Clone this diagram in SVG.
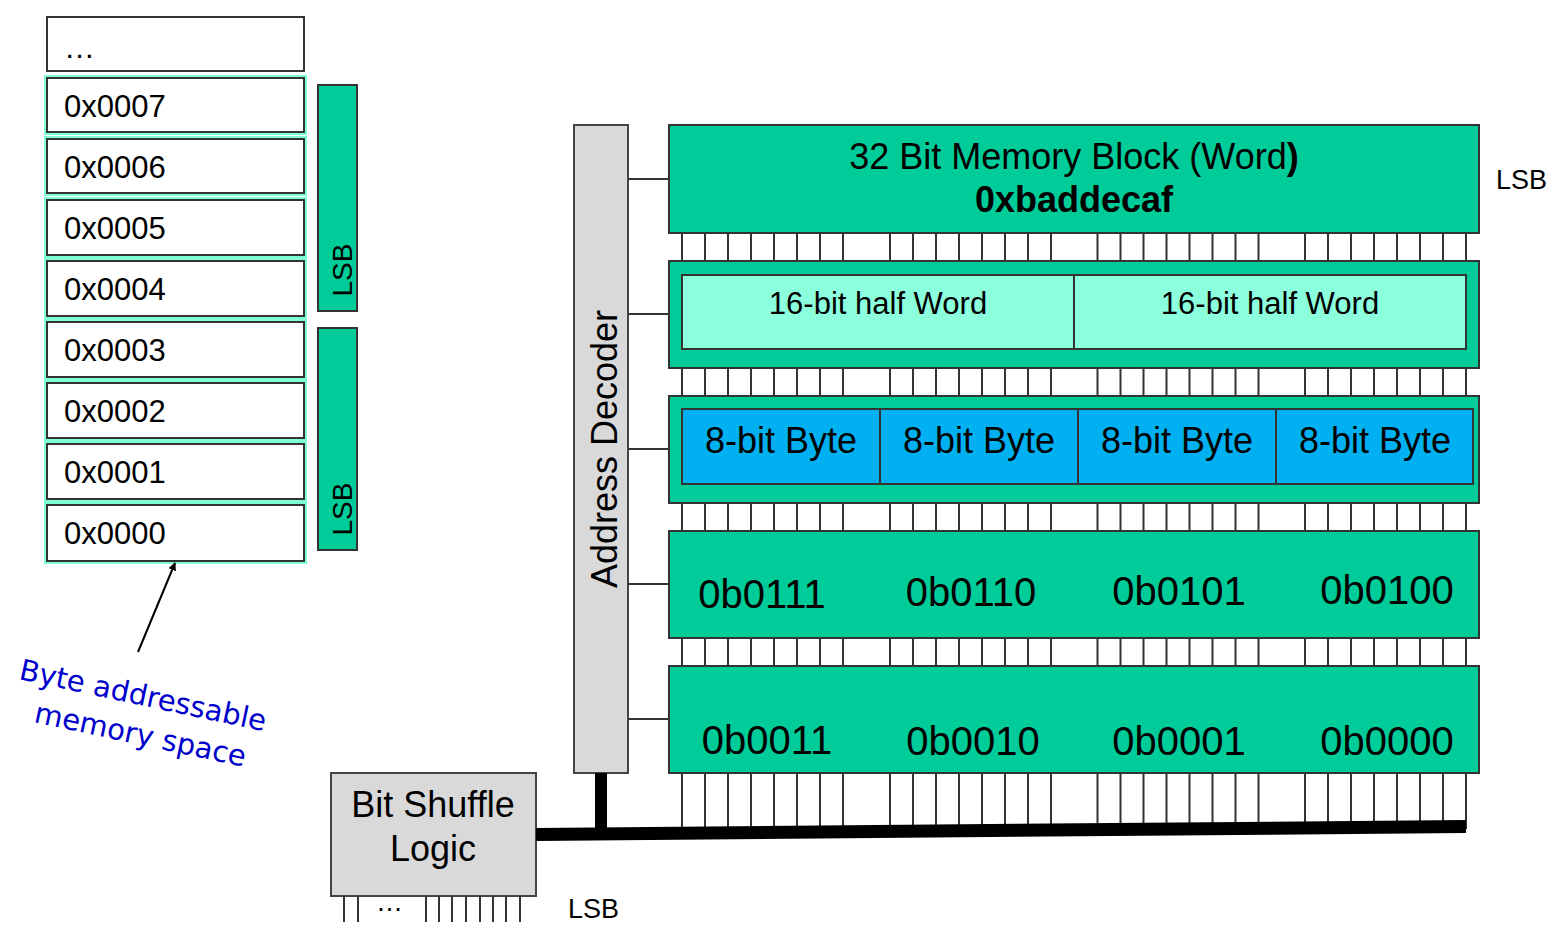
<svg xmlns="http://www.w3.org/2000/svg" width="1558" height="950" viewBox="0 0 1558 950">
<style>
text{font-family:"Liberation Sans",Arial,sans-serif;fill:#000}
.cell{fill:#fff;stroke:#333;stroke-width:2}
.glow{fill:none;stroke:#7fffd4;stroke-width:6}
.addr{font-size:31px}
.grn{fill:#00cc99;stroke:#333;stroke-width:2}
.half{fill:#8cffdc;stroke:#333;stroke-width:2}
.byte{fill:#00b0f0;stroke:#333;stroke-width:2}
.gray{fill:#d9d9d9;stroke:#444;stroke-width:2}
.wire{stroke:#333;stroke-width:2;fill:none}
.big{font-size:40px;text-anchor:middle}
.mid{font-size:36px;text-anchor:middle}
.hand{font-family:"Comic Sans MS","DejaVu Sans",sans-serif;font-size:29px;fill:#0000cc}
</style>
<defs>
<marker id="ah" viewBox="0 0 10 10" refX="9" refY="5" markerWidth="8" markerHeight="8" orient="auto" markerUnits="userSpaceOnUse"><path d="M0,0 L10,5 L0,10 z" fill="#000"/></marker>
<g id="bits"><g id="b8"><line x1="682" y1="0" x2="682" y2="28"/><line x1="705" y1="0" x2="705" y2="28"/><line x1="728" y1="0" x2="728" y2="28"/><line x1="751" y1="0" x2="751" y2="28"/><line x1="774" y1="0" x2="774" y2="28"/><line x1="797" y1="0" x2="797" y2="28"/><line x1="820" y1="0" x2="820" y2="28"/><line x1="843" y1="0" x2="843" y2="28"/></g><use href="#b8" x="208"/><use href="#b8" x="415.5"/><use href="#b8" x="623"/></g>
<g id="bitsL"><g id="b8L"><line x1="682" y1="0" x2="682" y2="56"/><line x1="705" y1="0" x2="705" y2="56"/><line x1="728" y1="0" x2="728" y2="56"/><line x1="751" y1="0" x2="751" y2="56"/><line x1="774" y1="0" x2="774" y2="56"/><line x1="797" y1="0" x2="797" y2="56"/><line x1="820" y1="0" x2="820" y2="56"/><line x1="843" y1="0" x2="843" y2="56"/></g><use href="#b8L" x="208"/><use href="#b8L" x="415.5"/><use href="#b8L" x="623"/></g>
</defs>
<rect width="1558" height="950" fill="#fff"/>

<!-- memory stack -->
<g id="mem-top"><rect class="cell" x="47" y="17" width="257" height="54"/><text class="addr" x="64" y="58">…</text></g>
<g id="mem7"><rect class="glow" x="47" y="78" width="257" height="54"/><rect class="cell" x="47" y="78" width="257" height="54"/><text class="addr" x="64" y="117">0x0007</text></g>
<g id="mem6"><rect class="glow" x="47" y="139" width="257" height="54"/><rect class="cell" x="47" y="139" width="257" height="54"/><text class="addr" x="64" y="178">0x0006</text></g>
<g id="mem5"><rect class="glow" x="47" y="200" width="257" height="55"/><rect class="cell" x="47" y="200" width="257" height="55"/><text class="addr" x="64" y="239">0x0005</text></g>
<g id="mem4"><rect class="glow" x="47" y="261" width="257" height="55"/><rect class="cell" x="47" y="261" width="257" height="55"/><text class="addr" x="64" y="300">0x0004</text></g>
<g id="mem3"><rect class="glow" x="47" y="322" width="257" height="55"/><rect class="cell" x="47" y="322" width="257" height="55"/><text class="addr" x="64" y="361">0x0003</text></g>
<g id="mem2"><rect class="glow" x="47" y="383" width="257" height="55"/><rect class="cell" x="47" y="383" width="257" height="55"/><text class="addr" x="64" y="422">0x0002</text></g>
<g id="mem1"><rect class="glow" x="47" y="444" width="257" height="55"/><rect class="cell" x="47" y="444" width="257" height="55"/><text class="addr" x="64" y="483">0x0001</text></g>
<g id="mem0"><rect class="glow" x="47" y="505" width="257" height="56"/><rect class="cell" x="47" y="505" width="257" height="56"/><text class="addr" x="64" y="544">0x0000</text></g>

<g id="lsb-bar1"><rect class="grn" x="318" y="85" width="39" height="226"/><text x="352" y="270" font-size="28" text-anchor="middle" transform="rotate(-90 352 270)">LSB</text></g>
<g id="lsb-bar2"><rect class="grn" x="318" y="328" width="39" height="222"/><text x="352" y="509" font-size="28" text-anchor="middle" transform="rotate(-90 352 509)">LSB</text></g>

<g id="note">
<text class="hand" transform="translate(18,679) rotate(12)">Byte addressable</text>
<text class="hand" transform="translate(33,722) rotate(12)">memory space</text>
</g>

<!-- address decoder -->
<g id="decoder"><rect class="gray" x="574" y="125" width="54" height="648"/><text x="617" y="449" font-size="36" text-anchor="middle" transform="rotate(-90 617 449)">Address Decoder</text></g>

<!-- blocks -->
<g id="word"><rect class="grn" x="669" y="125" width="810" height="108"/>
<text x="1074" y="169" font-size="36" text-anchor="middle">32 Bit Memory Block (Word<tspan font-weight="bold">)</tspan></text>
<text x="1074" y="212" font-size="36" font-weight="bold" text-anchor="middle">0xbaddecaf</text></g>
<g id="halfwords"><rect class="grn" x="669" y="261" width="810" height="107"/>
<rect class="half" x="682" y="275" width="392" height="74"/><rect class="half" x="1074" y="275" width="392" height="74"/>
<text x="878" y="314" font-size="31" text-anchor="middle">16-bit half Word</text>
<text x="1270" y="314" font-size="31" text-anchor="middle">16-bit half Word</text></g>
<g id="bytes"><rect class="grn" x="669" y="396" width="810" height="107"/>
<rect class="byte" x="682" y="409" width="198" height="75"/><rect class="byte" x="880" y="409" width="198" height="75"/><rect class="byte" x="1078" y="409" width="198" height="75"/><rect class="byte" x="1276" y="409" width="197" height="75"/>
<text class="mid" x="781" y="453">8-bit Byte</text><text class="mid" x="979" y="453">8-bit Byte</text><text class="mid" x="1177" y="453">8-bit Byte</text><text class="mid" x="1375" y="453">8-bit Byte</text></g>
<g id="bits-high"><rect class="grn" x="669" y="531" width="810" height="107"/>
<text class="big" x="762" y="608">0b0111</text><text class="big" x="971" y="606">0b0110</text><text class="big" x="1179" y="605">0b0101</text><text class="big" x="1387" y="604">0b0100</text></g>
<g id="bits-low"><rect class="grn" x="669" y="666" width="810" height="107"/>
<text class="big" x="767" y="754">0b0011</text><text class="big" x="973" y="755">0b0010</text><text class="big" x="1179" y="755">0b0001</text><text class="big" x="1387" y="755">0b0000</text></g>

<g id="shuffle"><rect class="gray" x="331" y="773" width="205" height="123"/>
<text x="433" y="817" font-size="36" text-anchor="middle">Bit Shuffle</text>
<text x="433" y="861" font-size="36" text-anchor="middle">Logic</text></g>

<text id="lsb-word" x="1496" y="189" font-size="27">LSB</text>
<text id="lsb-shuffle" x="568" y="918" font-size="27">LSB</text>

<!-- connectors -->
<g id="connectors">
<g class="wire">
<line x1="628" y1="179" x2="669" y2="179"/>
<line x1="628" y1="314" x2="669" y2="314"/>
<line x1="628" y1="449" x2="669" y2="449"/>
<line x1="628" y1="584" x2="669" y2="584"/>
<line x1="628" y1="719" x2="669" y2="719"/>
<use href="#bits" y="233"/>
<use href="#bits" y="368"/>
<use href="#bits" y="503"/>
<use href="#bits" y="638"/>
<use href="#bitsL" y="773"/>
<line x1="344" y1="896" x2="344" y2="922"/><line x1="358" y1="896" x2="358" y2="922"/>
<line x1="426" y1="896" x2="426" y2="922"/><line x1="439" y1="896" x2="439" y2="922"/><line x1="452" y1="896" x2="452" y2="922"/><line x1="466" y1="896" x2="466" y2="922"/><line x1="480" y1="896" x2="480" y2="922"/><line x1="493" y1="896" x2="493" y2="922"/><line x1="506" y1="896" x2="506" y2="922"/><line x1="520" y1="896" x2="520" y2="922"/>
</g>
<text x="376" y="911" font-size="27">…</text>
<line x1="601" y1="773" x2="601" y2="830" stroke="#000" stroke-width="12"/>
<polygon points="536,828 1466,820 1466,833 536,841" fill="#000"/>
<line x1="138" y1="652" x2="175" y2="563" stroke="#000" stroke-width="2" marker-end="url(#ah)"/>
</g>
</svg>
